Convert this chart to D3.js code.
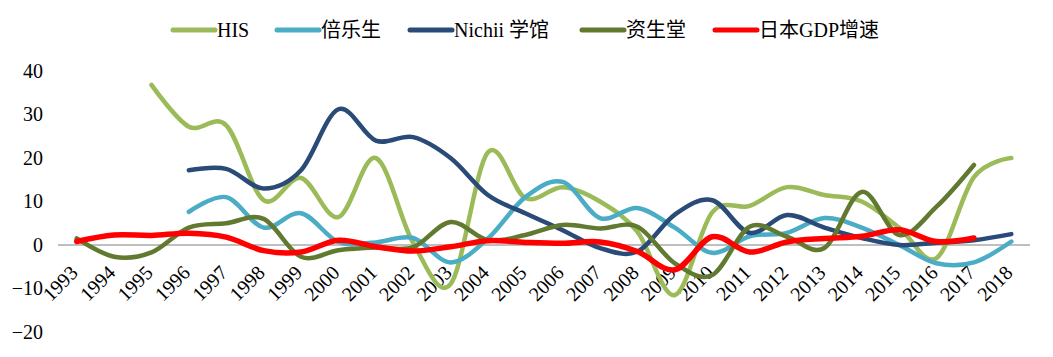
<!DOCTYPE html>
<html><head><meta charset="utf-8">
<script src="https://cdn.jsdelivr.net/npm/d3@7"></script>
<style>
html,body{margin:0;padding:0;background:#fff;}
svg{display:block;}
</style></head>
<body>
<svg id="c" width="1053" height="357"></svg>
<script>
const years = ["1993","1994","1995","1996","1997","1998","1999","2000","2001","2002","2003","2004","2005","2006","2007","2008","2009","2010","2011","2012","2013","2014","2015","2016","2017","2018"];
const yTicks = [-20,-10,0,10,20,30,40];
const seriesNames = ["HIS","倍乐生","Nichii 学馆","资生堂","日本GDP增速"];
const his      = [null,null,36.8,27.2,27.5,10.3,15.4,6.4,20.0,0.5,-9.0,21.3,10.8,13.3,10.0,3.0,-11.5,7.5,9.0,13.3,11.5,10.0,4.0,-3.0,15.6,20.0];
const benesse  = [null,null,null,7.6,11.0,4.0,7.3,0.7,0.6,1.6,-4.0,1.5,11.0,14.5,6.2,8.5,4.0,-1.8,2.0,2.8,6.2,4.0,0.0,-4.2,-4.0,0.8];
const nichii   = [null,null,null,17.2,17.5,13.0,17.2,31.2,24.0,24.8,20.0,11.5,7.3,3.4,-0.7,-1.5,7.0,10.3,2.8,6.9,4.0,1.6,0.0,0.5,1.1,2.5];
const shiseido = [1.5,-2.7,-1.7,4.0,5.0,6.0,-2.7,-1.2,-0.6,-0.5,5.3,1.1,2.3,4.6,3.8,4.2,-4.2,-6.9,4.2,1.9,-0.7,12.2,2.3,8.8,18.4,null];
const gdp      = [0.8,2.3,2.2,2.7,1.8,-1.3,-1.6,1.1,-0.4,-1.4,-0.4,1.0,0.6,0.4,0.7,-1.5,-5.7,1.9,-1.6,0.7,1.5,2.0,3.5,0.8,1.6,null];

const seriesData = [his, benesse, nichii, shiseido, gdp];
const colors = ["#9BBB59","#4BACC6","#2A4A78","#617A30","#FF0000"];
const widths = [4.5,4.5,4.5,4.5,5.5];

const svg = d3.select("#c");
const x = d3.scalePoint().domain(years).range([58,1030]).padding(0.5);
const y = d3.scaleLinear().domain([-20,40]).range([332,71]);

// zero line
svg.append("line").attr("x1",58).attr("x2",1030).attr("y1",y(0)).attr("y2",y(0))
  .attr("stroke","#BFBFBF").attr("stroke-width",2);

// y labels
const yAxis = d3.axisLeft(y).tickValues(yTicks).tickSize(0).tickPadding(0);
const gy = svg.append("g").attr("transform","translate(43,0)").call(yAxis);
gy.select(".domain").remove();
gy.selectAll("text").attr("font-family","'Liberation Serif', serif").attr("font-size",20).attr("fill","#000");

// x labels
const xAxis = d3.axisBottom(x).tickSize(0).tickPadding(0);
const gx = svg.append("g").attr("transform",`translate(0,${y(0)})`).call(xAxis);
gx.select(".domain").remove();
gx.selectAll("text")
  .attr("font-family","'Liberation Serif', serif").attr("font-size",20).attr("fill","#000")
  .attr("text-anchor","end")
  .attr("dy",null).attr("y",0)
  .attr("transform","translate(2,29) rotate(-45)");

// lines
const line = d3.line()
  .defined(d => d.v !== null)
  .x(d => x(d.year)).y(d => y(d.v))
  .curve(d3.curveCardinal.tension(0));

seriesData.forEach((arr,i)=>{
  const pts = years.map((yr,j)=>({year:yr, v:arr[j]})).filter(d=>d.v!==null);
  svg.append("path").datum(pts)
    .attr("d", line)
    .attr("fill","none")
    .attr("stroke",colors[i])
    .attr("stroke-width",widths[i])
    .attr("stroke-linecap","round")
    .attr("stroke-linejoin","round");
});

// legend
const legendX = [173,277,410,582,715];
const lg = svg.append("g");
seriesNames.forEach((n,i)=>{
  lg.append("line").attr("x1",legendX[i]).attr("x2",legendX[i]+42).attr("y1",30).attr("y2",30)
    .attr("stroke",colors[i]).attr("stroke-width",5).attr("stroke-linecap","round");
  lg.append("text").attr("x",legendX[i]+44).attr("y",30).attr("dy","0.35em")
    .attr("font-family","'Liberation Serif','Noto Sans CJK SC',serif").attr("font-size",20)
    .attr("fill","#000").text(n);
});
</script>
</body></html>
